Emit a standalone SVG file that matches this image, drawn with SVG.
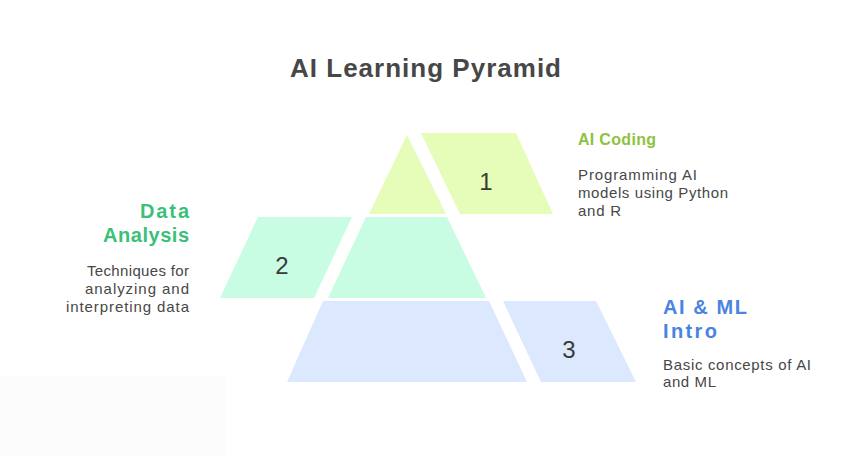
<svg xmlns="http://www.w3.org/2000/svg" width="852" height="456" viewBox="0 0 852 456">
<style>
.title{font-family:"Liberation Sans",Arial,sans-serif;font-weight:bold;font-size:26px;fill:#474747}
.num{font-family:"Liberation Sans",Arial,sans-serif;font-size:24px;fill:#3a3a3a;text-anchor:middle}
.head{font-family:"Liberation Sans",Arial,sans-serif;font-weight:bold;font-size:20px}
.desc{font-family:"Liberation Sans",Arial,sans-serif;font-size:15px;fill:#474747}
.l1{fill:#e6fcb9}
.l2{fill:#c8fce3}
.l3{fill:#dce8fd}
</style>
<rect x="0" y="0" width="852" height="456" fill="#ffffff"/>
<rect x="0" y="376" width="226" height="80" fill="#fcfcfc"/>
<text class="title" x="290" y="77" textLength="271">AI Learning Pyramid</text>
<g id="connectors"></g>
<g id="level1">
<polygon class="l1" points="407,135 446,214 369,214"/>
<polygon class="l1" points="421,133 516,133 553,214 460,214"/>
<text class="num" x="486" y="190">1</text>
<text class="head" x="578" y="145" fill="#8dc23f" style="font-size:16px" textLength="78">AI Coding</text>
<text class="desc" x="578" y="180" textLength="119">Programming AI</text>
<text class="desc" x="578" y="198" textLength="150">models using Python</text>
<text class="desc" x="578" y="216" textLength="43">and R</text>
</g>
<g id="level2">
<polygon class="l2" points="366,217 447,217 486,298 328,298"/>
<polygon class="l2" points="258,217 352,217 314,298 220,298"/>
<text class="num" x="282" y="274">2</text>
<text class="head" x="140" y="218" fill="#3cbf7a" textLength="49">Data</text>
<text class="head" x="103" y="242" fill="#3cbf7a" textLength="86">Analysis</text>
<text class="desc" x="87" y="276" textLength="102">Techniques for</text>
<text class="desc" x="85" y="294" textLength="104">analyzing and</text>
<text class="desc" x="66" y="312" textLength="123">interpreting data</text>
</g>
<g id="level3">
<polygon class="l3" points="323,301 489,301 527,382 287,382"/>
<polygon class="l3" points="503,301 596,301 636,382 541,382"/>
<text class="num" x="569" y="358">3</text>
<text class="head" x="663" y="314" fill="#4a84e0" textLength="84">AI &amp; ML</text>
<text class="head" x="663" y="338" fill="#4a84e0" textLength="54">Intro</text>
<text class="desc" x="663" y="370" textLength="148">Basic concepts of AI</text>
<text class="desc" x="663" y="387" textLength="53">and ML</text>
</g>
</svg>
